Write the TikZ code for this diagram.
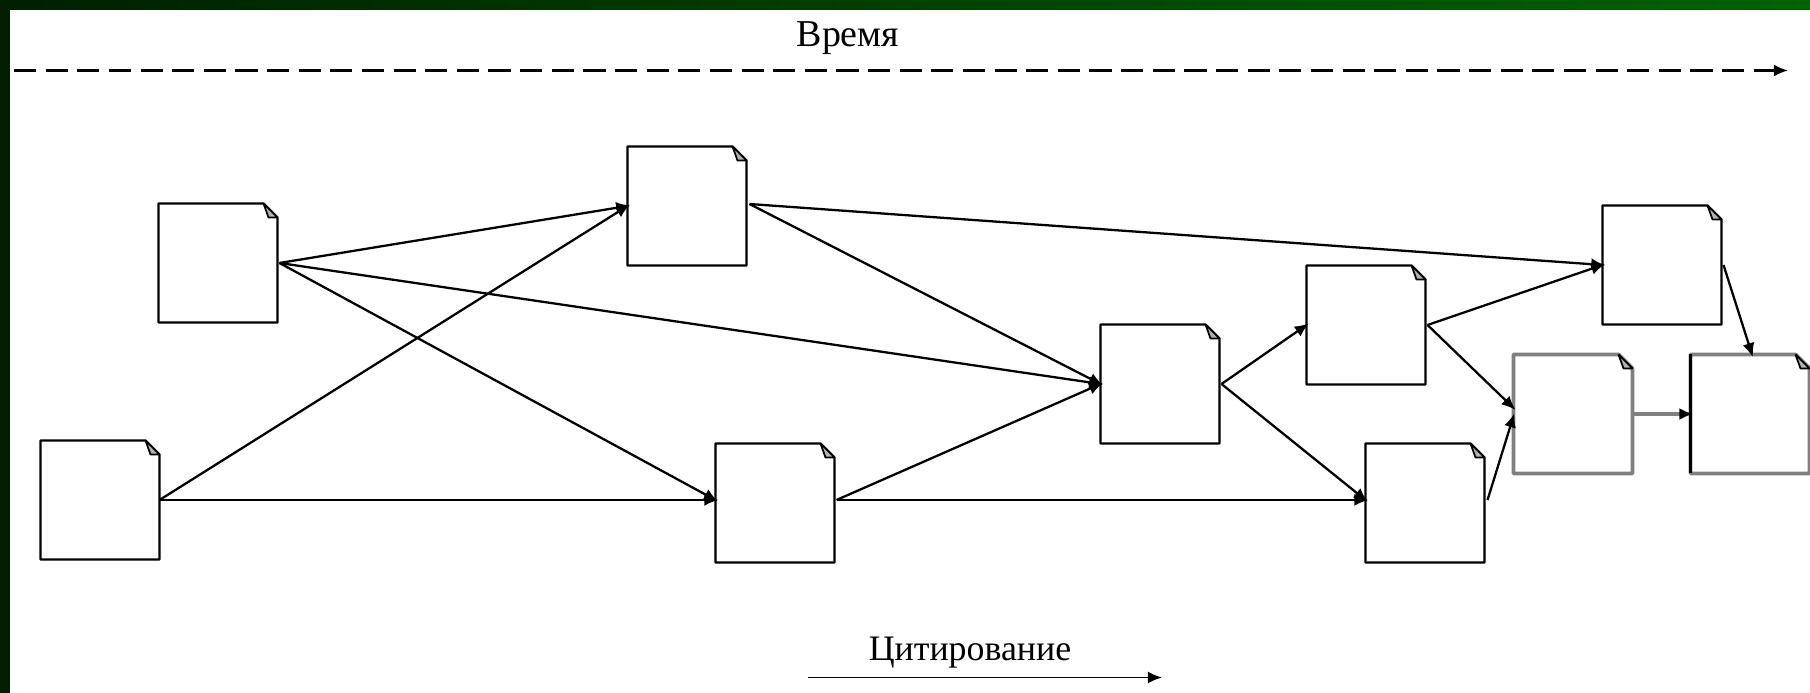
\documentclass[tikz,border=0pt]{standalone}
\usepackage{fontspec}
\setmainfont{Liberation Serif}
\usetikzlibrary{arrows.meta}
\definecolor{darkband}{HTML}{002000}
\definecolor{lightband}{HTML}{006200}
\tikzset{
    doc/.style = {minimum size = 1.19cm, inner sep = 0pt, outer sep = 0pt},
    docline/.style = {draw, fill = white, line width = 0.65pt, line join = bevel},
    docgray/.style = {docline, draw = black!50, line width = 1.1pt},
    foldline/.style = {draw, fill = black!30, line width = 0.5pt, line join = bevel},
    link/.style = {-{Latex[length=4pt,width=3.4pt,black]}, line width = 0.65pt, shorten > = -0.8pt}
}
\begin{document}
\begin{tikzpicture}
    \useasboundingbox (0,0) rectangle (18.10,6.93);
    \shade [left color = darkband, right color = lightband] (0,6.83) rectangle (18.10,6.93);
    \fill [darkband] (0,0) rectangle (0.105,6.85);

    \node (a)[doc] at (2.18,4.30){};
    \node (b)[doc] at (1.00,1.93){};
    \node (c)[doc] at (6.87,4.87){};
    \node (d)[doc] at (7.75,1.90){};
    \node (e)[doc] at (11.60,3.09){};
    \node (f)[doc] at (13.66,3.68){};
    \node (g)[doc] at (14.25,1.90){};
    \node (h)[doc] at (16.62,4.28){};
    \node (i)[doc] at (15.73,2.79){};
    \node (j)[doc] at (17.50,2.79){};

    % sheets with a folded corner
    \foreach \n/\s in {a/docline,b/docline,c/docline,d/docline,e/docline,f/docline,g/docline,h/docline,i/docgray,j/docgray}{
        \draw [\s] (\n.north west) -- ([xshift=-0.14cm]\n.north east)
            -- ([yshift=-0.14cm]\n.north east) -- (\n.south east)
            -- (\n.south west) -- cycle;
        \draw [foldline] ([xshift=-0.14cm]\n.north east)
            -- ([xshift=-0.09cm,yshift=-0.14cm]\n.north east)
            -- ([yshift=-0.14cm]\n.north east) -- cycle;
    }
    \draw [line width = 0.65pt] (j.north west) -- (j.south west);

    \draw [link]([xshift=0.02cm]a.east)--(c.west);
    \draw [link]([xshift=0.02cm]a.east)--(e.west);
    \draw [link]([xshift=0.02cm]a.east)--([yshift=0.03cm]d.west);
    \draw [link](b.east)--(c.west);
    \draw [link](b.east)--([yshift=0.03cm]d.west);
    \draw [link]([xshift=0.03cm,yshift=0.02cm]c.east)--(e.west);
    \draw [link]([xshift=0.03cm,yshift=0.02cm]c.east)--(h.west);
    \draw [link]([xshift=0.02cm,yshift=0.03cm]d.east)--(e.west);
    \draw [link]([xshift=0.02cm,yshift=0.03cm]d.east)--([yshift=0.03cm]g.west);
    \draw [link]([xshift=0.02cm]e.east)--(f.west);
    \draw [link]([xshift=0.02cm]e.east)--([yshift=0.03cm]g.west);
    \draw [link]([xshift=0.02cm]f.east)--(h.west);
    \draw [link]([xshift=0.02cm]f.east)--([yshift=0.06cm]i.west);
    \draw [link]([xshift=0.03cm,yshift=0.03cm]g.east)--([yshift=-0.02cm]i.west);
    \draw [link]([xshift=0.02cm]h.east)--([xshift=0.02cm]j.north);
    \draw [link, draw = black!50, line width = 1.1pt](i.east)--(j.west);

    \node (timelabel) at (8.48,6.55){\fontsize{10.8}{13}\selectfont Время};
    \coordinate (timestart) at (0.14,6.225);
    \coordinate (timeend) at (17.88,6.225);
    \draw [link, shorten > = 0pt, line width = 0.6pt, dash pattern = on 6.3pt off 2.7pt](timestart)--(timeend);

    \node (citelabel) at (9.70,0.405){\fontsize{10.2}{13}\selectfont Цитирование};
    \coordinate (citestart) at (8.08,0.155);
    \coordinate (citeend) at (11.62,0.155);
    \draw [link, shorten > = 0pt, line width = 0.5pt](citestart)--(citeend);
\end{tikzpicture}
\end{document}
